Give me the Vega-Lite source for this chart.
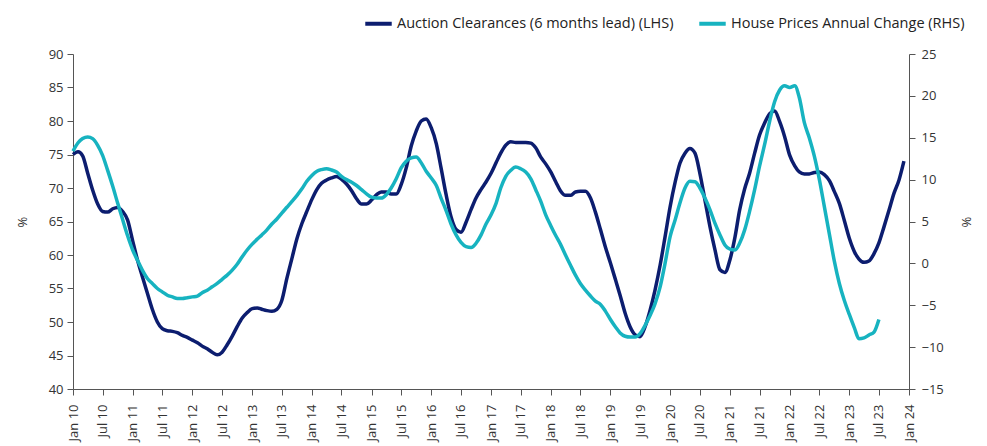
{
"$schema": "https://vega.github.io/schema/vega-lite/v6.json",
"width": 836, "height": 335,
"autosize": {"type": "none"},
"padding": {"left": 73, "top": 54, "right": 78, "bottom": 57},
"background": "white",
"config": {
 "view": {"stroke": null},
 "font": "Open Sans",
 "axis": {"grid": false, "domainColor": "#555", "tickColor": "#555", "labelColor": "#333", "labelFontSize": 13, "titleFontSize": 13, "titleFontWeight": "normal", "titleColor": "#333", "tickSize": 6, "labelFont": "Open Sans", "titleFont": "Open Sans"}
},
"data": {"values": [
{"d":"2010-01-01","a":75.0,"h":13.4},{"d":"2010-02-01","a":75.4,"h":14.4},{"d":"2010-03-01","a":74.8,"h":14.9},{"d":"2010-04-01","a":72.2,"h":15.1},{"d":"2010-05-01","a":69.7,"h":14.9},{"d":"2010-06-01","a":67.6,"h":14.1},{"d":"2010-07-01","a":66.5,"h":12.9},{"d":"2010-08-01","a":66.4,"h":11.1},{"d":"2010-09-01","a":66.9,"h":9.2},{"d":"2010-10-01","a":67.1,"h":7.2},{"d":"2010-11-01","a":66.5,"h":5.2},{"d":"2010-12-01","a":65.2,"h":3.3},
{"d":"2011-01-01","a":62.1,"h":1.6},{"d":"2011-02-01","a":59.1,"h":0.3},{"d":"2011-03-01","a":56.8,"h":-0.8},{"d":"2011-04-01","a":54.3,"h":-1.8},{"d":"2011-05-01","a":51.9,"h":-2.4},{"d":"2011-06-01","a":50.0,"h":-3.0},{"d":"2011-07-01","a":49.0,"h":-3.4},{"d":"2011-08-01","a":48.7,"h":-3.8},{"d":"2011-09-01","a":48.6,"h":-4.0},{"d":"2011-10-01","a":48.4,"h":-4.2},{"d":"2011-11-01","a":48.0,"h":-4.2},{"d":"2011-12-01","a":47.7,"h":-4.1},
{"d":"2012-01-01","a":47.3,"h":-4.0},{"d":"2012-02-01","a":46.9,"h":-3.9},{"d":"2012-03-01","a":46.4,"h":-3.5},{"d":"2012-04-01","a":46.0,"h":-3.2},{"d":"2012-05-01","a":45.5,"h":-2.8},{"d":"2012-06-01","a":45.1,"h":-2.4},{"d":"2012-07-01","a":45.5,"h":-1.9},{"d":"2012-08-01","a":46.6,"h":-1.4},{"d":"2012-09-01","a":47.9,"h":-0.8},{"d":"2012-10-01","a":49.3,"h":-0.1},{"d":"2012-11-01","a":50.6,"h":0.8},{"d":"2012-12-01","a":51.4,"h":1.6},
{"d":"2013-01-01","a":52.0,"h":2.3},{"d":"2013-02-01","a":52.1,"h":2.9},{"d":"2013-03-01","a":51.9,"h":3.4},{"d":"2013-04-01","a":51.7,"h":4.0},{"d":"2013-05-01","a":51.6,"h":4.7},{"d":"2013-06-01","a":51.9,"h":5.3},{"d":"2013-07-01","a":53.2,"h":6.0},{"d":"2013-08-01","a":56.5,"h":6.7},{"d":"2013-09-01","a":59.5,"h":7.4},{"d":"2013-10-01","a":62.4,"h":8.1},{"d":"2013-11-01","a":64.7,"h":8.9},{"d":"2013-12-01","a":66.5,"h":9.8},
{"d":"2014-01-01","a":68.3,"h":10.5},{"d":"2014-02-01","a":69.8,"h":11.0},{"d":"2014-03-01","a":70.7,"h":11.2},{"d":"2014-04-01","a":71.2,"h":11.3},{"d":"2014-05-01","a":71.5,"h":11.15},{"d":"2014-06-01","a":71.7,"h":10.9},{"d":"2014-07-01","a":71.3,"h":10.4},{"d":"2014-08-01","a":70.6,"h":10.0},{"d":"2014-09-01","a":69.6,"h":9.7},{"d":"2014-10-01","a":68.4,"h":9.3},{"d":"2014-11-01","a":67.6,"h":8.8},{"d":"2014-12-01","a":67.6,"h":8.3},
{"d":"2015-01-01","a":68.2,"h":7.9},{"d":"2015-02-01","a":69.0,"h":7.8},{"d":"2015-03-01","a":69.4,"h":7.8},{"d":"2015-04-01","a":69.4,"h":8.2},{"d":"2015-05-01","a":69.1,"h":9.0},{"d":"2015-06-01","a":69.1,"h":10.1},{"d":"2015-07-01","a":70.5,"h":11.4},{"d":"2015-08-01","a":73.0,"h":12.2},{"d":"2015-09-01","a":76.3,"h":12.6},{"d":"2015-10-01","a":78.5,"h":12.7},{"d":"2015-11-01","a":80.0,"h":12.0},{"d":"2015-12-01","a":80.3,"h":11.0},
{"d":"2016-01-01","a":79.0,"h":10.2},{"d":"2016-02-01","a":76.6,"h":9.3},{"d":"2016-03-01","a":73.0,"h":7.8},{"d":"2016-04-01","a":69.0,"h":6.3},{"d":"2016-05-01","a":65.7,"h":4.7},{"d":"2016-06-01","a":63.8,"h":3.4},{"d":"2016-07-01","a":63.4,"h":2.5},{"d":"2016-08-01","a":64.9,"h":2.0},{"d":"2016-09-01","a":66.8,"h":1.9},{"d":"2016-10-01","a":68.5,"h":2.4},{"d":"2016-11-01","a":69.8,"h":3.4},{"d":"2016-12-01","a":70.9,"h":4.7},
{"d":"2017-01-01","a":72.2,"h":5.8},{"d":"2017-02-01","a":73.8,"h":7.2},{"d":"2017-03-01","a":75.2,"h":9.0},{"d":"2017-04-01","a":76.4,"h":10.4},{"d":"2017-05-01","a":76.9,"h":11.1},{"d":"2017-06-01","a":76.8,"h":11.5},{"d":"2017-07-01","a":76.8,"h":11.3},{"d":"2017-08-01","a":76.8,"h":10.9},{"d":"2017-09-01","a":76.7,"h":10.1},{"d":"2017-10-01","a":76.0,"h":8.8},{"d":"2017-11-01","a":74.6,"h":7.4},{"d":"2017-12-01","a":73.6,"h":5.8},
{"d":"2018-01-01","a":72.4,"h":4.5},{"d":"2018-02-01","a":70.9,"h":3.3},{"d":"2018-03-01","a":69.6,"h":2.3},{"d":"2018-04-01","a":68.9,"h":1.0},{"d":"2018-05-01","a":68.9,"h":-0.2},{"d":"2018-06-01","a":69.4,"h":-1.4},{"d":"2018-07-01","a":69.5,"h":-2.4},{"d":"2018-08-01","a":69.5,"h":-3.2},{"d":"2018-09-01","a":68.5,"h":-3.9},{"d":"2018-10-01","a":66.4,"h":-4.5},{"d":"2018-11-01","a":63.8,"h":-4.9},{"d":"2018-12-01","a":61.2,"h":-5.7},
{"d":"2019-01-01","a":58.8,"h":-6.7},{"d":"2019-02-01","a":56.3,"h":-7.6},{"d":"2019-03-01","a":54.0,"h":-8.3},{"d":"2019-04-01","a":51.3,"h":-8.7},{"d":"2019-05-01","a":49.3,"h":-8.8},{"d":"2019-06-01","a":48.1,"h":-8.8},{"d":"2019-07-01","a":47.8,"h":-8.4},{"d":"2019-08-01","a":49.3,"h":-7.4},{"d":"2019-09-01","a":51.8,"h":-6.2},{"d":"2019-10-01","a":54.8,"h":-4.8},{"d":"2019-11-01","a":58.5,"h":-2.8},{"d":"2019-12-01","a":62.7,"h":0.0},
{"d":"2020-01-01","a":67.2,"h":3.2},{"d":"2020-02-01","a":70.9,"h":5.2},{"d":"2020-03-01","a":73.7,"h":7.2},{"d":"2020-04-01","a":75.2,"h":9.0},{"d":"2020-05-01","a":75.9,"h":9.8},{"d":"2020-06-01","a":75.2,"h":9.75},{"d":"2020-07-01","a":72.2,"h":9.0},{"d":"2020-08-01","a":68.2,"h":7.8},{"d":"2020-09-01","a":64.2,"h":6.4},{"d":"2020-10-01","a":60.8,"h":4.8},{"d":"2020-11-01","a":57.8,"h":3.4},{"d":"2020-12-01","a":57.4,"h":2.2},
{"d":"2021-01-01","a":59.3,"h":1.7},{"d":"2021-02-01","a":62.7,"h":1.6},{"d":"2021-03-01","a":66.7,"h":2.4},{"d":"2021-04-01","a":69.9,"h":4.0},{"d":"2021-05-01","a":72.2,"h":6.2},{"d":"2021-06-01","a":75.2,"h":8.8},{"d":"2021-07-01","a":77.9,"h":11.6},{"d":"2021-08-01","a":79.7,"h":14.2},{"d":"2021-09-01","a":81.1,"h":17.0},{"d":"2021-10-01","a":81.5,"h":19.3},{"d":"2021-11-01","a":79.9,"h":20.7},{"d":"2021-12-01","a":77.7,"h":21.2},
{"d":"2022-01-01","a":74.9,"h":21.0},{"d":"2022-02-01","a":73.3,"h":21.2},{"d":"2022-03-01","a":72.4,"h":19.8},{"d":"2022-04-01","a":72.1,"h":16.8},{"d":"2022-05-01","a":72.1,"h":15.0},{"d":"2022-06-01","a":72.3,"h":12.8},{"d":"2022-07-01","a":72.4,"h":10.1},{"d":"2022-08-01","a":72.0,"h":6.8},{"d":"2022-09-01","a":71.1,"h":3.5},{"d":"2022-10-01","a":69.5,"h":0.3},{"d":"2022-11-01","a":67.7,"h":-2.4},{"d":"2022-12-01","a":65.2,"h":-4.4},
{"d":"2023-01-01","a":62.5,"h":-6.1},{"d":"2023-02-01","a":60.5,"h":-7.7},{"d":"2023-03-01","a":59.4,"h":-9.0},{"d":"2023-04-01","a":58.9,"h":-8.9},{"d":"2023-05-01","a":59.1,"h":-8.55},{"d":"2023-06-01","a":60.2,"h":-8.2},{"d":"2023-07-01","a":61.8,"h":-6.7},{"d":"2023-08-01","a":64.2,"h":null},{"d":"2023-09-01","a":66.7,"h":null},{"d":"2023-10-01","a":69.2,"h":null},{"d":"2023-11-01","a":71.2,"h":null},{"d":"2023-12-01","a":74.0,"h":null}
]},
"encoding": {
 "x": {"field": "d", "type": "temporal",
  "scale": {"type": "utc", "domain": [{"year": 2010, "month": 1, "date": 1, "utc": true}, {"year": 2024, "month": 1, "date": 1, "utc": true}], "nice": false},
  "axis": {"title": null, "labelExpr": "utcFormat(datum.value, '%b %y')", "labelAngle": -90, "tickCount": {"interval": "month", "step": 6}, "labelPadding": 9}}
},
"layer": [
 {"mark": {"type": "line", "strokeWidth": 3.5, "interpolate": "monotone"},
  "encoding": {
   "y": {"field": "a", "type": "quantitative", "scale": {"domain": [40, 90], "nice": false, "zero": false},
    "axis": {"title": "%", "orient": "left", "values": [40,45,50,55,60,65,70,75,80,85,90], "titlePadding": 19, "labelPadding": 4}},
   "color": {"datum": "Auction Clearances (6 months lead) (LHS)",
    "scale": {"domain": ["Auction Clearances (6 months lead) (LHS)", "House Prices Annual Change (RHS)"], "range": ["#0c1d6f", "#17b3c0"]},
    "legend": {"orient": "none", "legendX": 290, "legendY": -46, "direction": "horizontal", "title": null, "symbolType": "stroke", "symbolStrokeWidth": 4, "symbolSize": 700, "labelFontSize": 14.5, "labelColor": "#222", "labelFont": "Open Sans", "columnPadding": 17, "labelOffset": 3, "padding": 0, "labelLimit": 400}}
  }},
 {"mark": {"type": "line", "strokeWidth": 3.5, "interpolate": "monotone"},
  "encoding": {
   "y": {"field": "h", "type": "quantitative", "scale": {"domain": [-15, 25], "nice": false, "zero": false},
    "axis": {"title": "%", "orient": "right", "values": [-15,-10,-5,0,5,10,15,20,25], "titlePadding": 15, "labelPadding": 6}},
   "color": {"datum": "House Prices Annual Change (RHS)"}
  }}
],
"resolve": {"scale": {"y": "independent"}}
}
